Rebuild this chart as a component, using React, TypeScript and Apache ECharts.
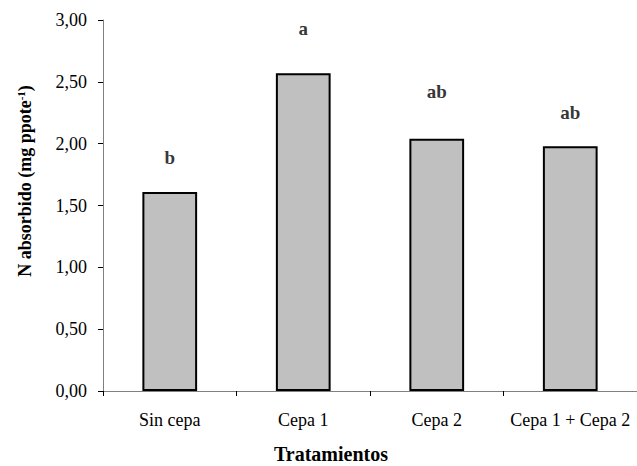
import React, { useEffect, useRef } from "react";
import * as echarts from "echarts";

const categories = ["Sin cepa", "Cepa 1", "Cepa 2", "Cepa 1 + Cepa 2"];
const values = [1.61, 2.57, 2.04, 1.98];
const letters = ["b", "a", "ab", "ab"];
const letterY = [1.89, 2.93, 2.42, 2.25];
const yMin = 0;
const yMax = 3;
const yInterval = 0.5;

const SERIF = "'Liberation Serif', 'Times New Roman', serif";

export default function App() {
  const ref = useRef<HTMLDivElement>(null);
  useEffect(() => {
    if (!ref.current) return;
    const chart = echarts.init(ref.current, undefined, { renderer: "svg" });
    chart.setOption({
      animation: false,
      backgroundColor: "#ffffff",
      grid: { left: 103, top: 20, bottom: 75, width: 540 },
      xAxis: {
        type: "category",
        data: categories,
        axisLine: { lineStyle: { color: "#808080", width: 1 } },
        axisTick: { show: true, length: 5, lineStyle: { color: "#000" } },
        axisLabel: { color: "#000", fontFamily: SERIF, fontSize: 18, margin: 20, interval: 0 },
      },
      yAxis: {
        type: "value",
        min: yMin,
        max: yMax,
        interval: yInterval,
        splitLine: { show: false },
        axisLine: { show: true, lineStyle: { color: "#808080", width: 1 } },
        axisTick: { show: true, length: 5, lineStyle: { color: "#000" } },
        axisLabel: {
          color: "#000",
          fontFamily: SERIF,
          fontSize: 18,
          margin: 16,
          formatter: (v: number) => v.toFixed(2).replace(".", ","),
        },
      },
      graphic: [
        {
          type: "text",
          x: 331,
          y: 454,
          style: {
            text: "Tratamientos",
            fontFamily: SERIF,
            fontSize: 20,
            fontWeight: "bold",
            fill: "#000",
            textAlign: "center",
            textVerticalAlign: "middle",
          },
        },
        {
          type: "text",
          x: 25,
          y: 181,
          rotation: Math.PI / 2,
          style: {
            text: "{a|N absorbido (mg ppote}{s|-1}{a|)}",
            textAlign: "center",
            textVerticalAlign: "middle",
            rich: {
              a: { fontFamily: SERIF, fontSize: 18, fontWeight: "bold", fill: "#000" },
              s: { fontFamily: SERIF, fontSize: 11, fontWeight: "bold", fill: "#000", verticalAlign: "top", padding: [0, 0, 8, 0] },
            },
          },
        },
      ],
      series: [
        {
          type: "bar",
          data: values,
          barWidth: "41%",
          itemStyle: { color: "#c0c0c0", borderColor: "#000", borderWidth: 2 },
        },
        {
          type: "scatter",
          data: letterY.map((y, i) => [categories[i], y]),
          symbolSize: 0,
          label: {
            show: true,
            position: "inside",
            formatter: (p: any) => letters[p.dataIndex],
            fontFamily: SERIF,
            fontSize: 19,
            fontWeight: "bold",
            color: "#000",
          },
        },
      ],
    });
    return () => chart.dispose();
  }, []);
  return <div ref={ref} style={{ position: "fixed", left: 0, top: 0, width: 637, height: 466 }} />;
}
